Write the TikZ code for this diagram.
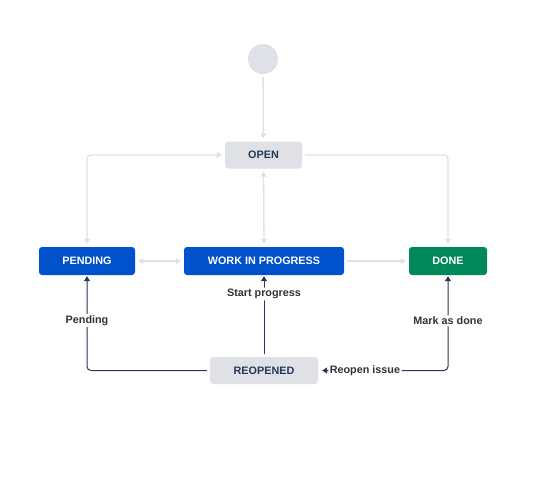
\documentclass[tikz,border=0pt]{standalone}
\usepackage{fontspec}
\setmainfont{Liberation Sans}
\usetikzlibrary{arrows.meta}

\definecolor{statusGray}{HTML}{DFE1E6}
\definecolor{statusBlue}{HTML}{0052CC}
\definecolor{statusGreen}{HTML}{00875A}
\definecolor{navy}{HTML}{253858}
\definecolor{lineGray}{HTML}{DFE1E6}
\definecolor{labelText}{HTML}{333333}

\begin{document}
\begin{tikzpicture}[%
    x=1pt, y=-1pt,
    status/.style={%
        rounded corners=3pt,
        inner sep=0pt,
        minimum height=27pt,
        font=\fontsize{10.8}{12}\selectfont\bfseries
    },
    todo/.style={%
        status,
        fill=statusGray,
        text=navy
    },
    progress/.style={%
        status,
        fill=statusBlue,
        text=white
    },
    complete/.style={%
        status,
        fill=statusGreen,
        text=white
    },
    start/.style={%
        circle,
        fill=statusGray,
        minimum size=30pt,
        inner sep=0pt
    },
    light/.style={%
        draw=lineGray,
        line width=1.3pt,
        shorten <=3pt,
        shorten >=3pt,
        rounded corners=4pt
    },
    dark/.style={%
        draw=navy,
        line width=1pt,
        shorten <=3pt,
        shorten >=1pt,
        rounded corners=4pt
    },
    transition/.style={%
        fill=white,
        text=labelText,
        inner sep=1.5pt,
        font=\fontsize{10.8}{12}\selectfont\bfseries
    },
    >={Triangle[length=5pt,width=6pt]}
]
\useasboundingbox (0,0) rectangle (557,480);

% Start
    \node[start] (initial) at (263,59) {};

% Statuses
    \node[todo, minimum width=77pt] (open) at (263.5,155) {OPEN};
    \node[progress, minimum width=96pt, minimum height=28pt] (pending) at (87,261) {PENDING};
    \node[progress, minimum width=160pt, minimum height=28pt] (wip) at (264,261) {WORK IN PROGRESS};
    \node[complete, minimum width=78pt, minimum height=28pt] (done) at (448,261) {DONE};
    \node[todo, minimum width=108pt] (reopened) at (264,370.5) {REOPENED};

% Global transitions
\draw[light, ->] (initial) -- (open);
\draw[light, <->] (pending.north) |- (open.west);
\draw[light, ->] (open.east) -| (done.north);
\draw[light, <->] (open.south) -- (wip.north);
\draw[light, <->] (pending.east) -- (wip.west);
\draw[light, ->] (wip.east) -- (done.west);

% Named transitions
\draw[dark, ->] (reopened.west) -| node[transition, pos=0.763] (pendingLabel) {Pending} (pending.south);
\draw[dark, ->] (reopened.north) -- node[transition, pos=0.77] (startLabel) {Start progress} (wip.south);
\draw[dark, <->, shorten <=4pt] (reopened.east) -| node[transition, pos=0.18] (reopenLabel) {Reopen issue}
    node[transition, pos=0.76] (markLabel) {Mark as done} (done.south);

\end{tikzpicture}
\end{document}
